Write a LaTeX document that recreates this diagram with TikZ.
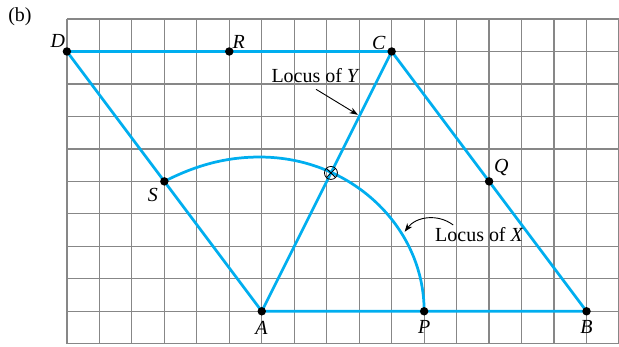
\documentclass[tikz,border=0pt]{standalone}
\usepackage{fontspec}
\setmainfont{Liberation Serif}
\usetikzlibrary{arrows.meta}

\begin{document}
\begin{tikzpicture}[line cap=round,line join=round,
  gridline/.style={gridgray,line width=1.1pt,line cap=butt},
  locus/.style={lineblue,line width=2.4pt},
  dot/.style={circle,fill=black,inner sep=0pt,minimum size=2.6mm},
  lbl/.style={font=\fontsize{17.5}{20}\selectfont\itshape,inner sep=0pt},
  txt/.style={font=\fontsize{17.5}{20}\selectfont,inner sep=0pt},
  pointer/.style={black,line width=0.8pt,-{Stealth[length=2.6mm,width=1.9mm]}}]
  \definecolor{lineblue}{RGB}{0,174,239}
  \definecolor{gridgray}{RGB}{135,135,135}

  \useasboundingbox (-2.06,-0.09) rectangle (17,10.585);

  % ---- square grid ----
  \draw[gridline] (0,0) grid (17,10);

  % points of the figure
  \coordinate (A) at (6,1);
  \coordinate (P) at (11,1);
  \coordinate (B) at (16,1);
  \coordinate (C) at (10,9);
  \coordinate (R) at (5,9);
  \coordinate (D) at (0,9);
  \coordinate (S) at (3,5);
  \coordinate (Q) at (13,5);
  \coordinate (top) at (5.94,5.75);
  \coordinate (X0) at (8.13,5.26);

  % ---- parallelogram and locus of Y ----
  \draw[locus] (C) -- (D) -- (A) -- (B) -- cycle;
  \draw[locus] (A) -- (C);

  % locus of X (arc from S over the top down to P)
  \draw[locus] (S) .. controls (3.98,5.5) and (4.9,5.75) .. (top)
    .. controls (8.73,5.75) and (11,3.62) .. (P);

  % crossing mark
  \draw[black,line width=0.7pt] (X0) circle (0.2);
  \draw[black,line width=0.7pt] (X0) ++(45:0.2) -- ++(225:0.4);
  \draw[black,line width=0.7pt] (X0) ++(135:0.2) -- ++(315:0.4);

  % ---- dots ----
  \foreach \p in {A,P,B,C,R,D,S,Q} {
    \node[dot] (dot\p) at (\p) {};
  }

  % ---- letters ----
  \node[lbl] (labD) at (-0.28,9.32) {D};
  \node[lbl] (labR) at (5.29,9.29) {R};
  \node[lbl] (labC) at (9.6,9.26) {C};
  \node[lbl] (labS) at (2.65,4.57) {S};
  \node[lbl] (labQ) at (13.38,5.42) {Q};
  \node[lbl] (labA) at (5.99,0.48) {A};
  \node[lbl] (labP) at (11.0,0.52) {P};
  \node[lbl] (labB) at (16.0,0.52) {B};
  \node[txt] (labb) at (-1.445,10.06) {(b)};

  % ---- locus captions with pointers ----
  \node[txt] (capY) at (7.66,8.26) {Locus of \textit{Y}};
  \coordinate (startY) at (7.68,7.83);
  \coordinate (tipY) at (8.96,7.05);
  \draw[pointer] (startY) -- (tipY);

  \node[txt] (capX) at (12.7,3.35) {Locus of \textit{X}};
  \coordinate (startX) at (11.89,3.66);
  \coordinate (tipX) at (10.4,3.45);
  \draw[pointer] (startX) to[bend right=45] (tipX);
\end{tikzpicture}
\end{document}
